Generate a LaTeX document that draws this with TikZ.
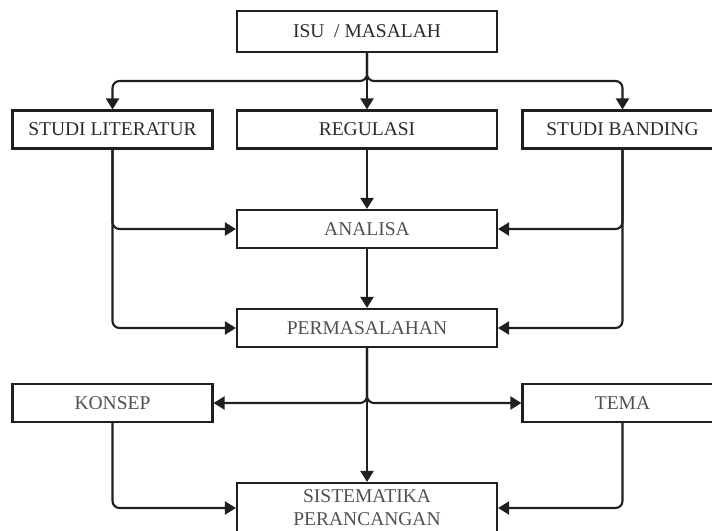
\documentclass[tikz,border=0pt]{standalone}
\usepackage{fontspec}
\setmainfont{Liberation Serif}
\usetikzlibrary{arrows.meta}
\definecolor{txtdark}{HTML}{2A2A2A}
\definecolor{txtgray}{HTML}{505050}
\begin{document}
\begin{tikzpicture}[x=1pt,y=-1pt,
  box/.style={draw=black!88,line width=2.1pt,rectangle,inner sep=0pt,align=center,
    font=\fontsize{19.5}{23}\selectfont,text=txtgray},
  wide/.style={minimum width=260pt,minimum height=38pt},
  side/.style={minimum width=200pt,minimum height=38pt},
  conn/.style={draw=black!88,line width=2.1pt,rounded corners=7pt,
    -{Triangle[length=11pt,width=13pt]}}]
\useasboundingbox (0,0) rectangle (712,530);
\clip (0,0) rectangle (712,530);
\node[box,wide,minimum height=41pt,text=txtdark] (isu) at (367,31.5) {ISU \ / MASALAH};
\node[box,side,text=txtdark] (lit) at (112.5,129.5) {STUDI LITERATUR};
\node[box,wide,text=txtdark] (reg) at (367,129.5) {REGULASI};
\node[box,side,text=txtdark] (band) at (622.5,129.5) {STUDI BANDING};
\node[box,wide] (ana) at (367,229) {ANALISA};
\node[box,wide] (perm) at (367,328) {PERMASALAHAN};
\node[box,side] (kon) at (112.5,403) {KONSEP};
\node[box,side] (tema) at (622.5,403) {TEMA};
\node[box,minimum width=260pt,minimum height=50pt] (sis) at (367,508) {SISTEMATIKA\\PERANCANGAN};
\coordinate (j1) at (367,81);
\draw[conn] (isu.south) -- (j1) -| (lit.north);
\draw[conn] (isu.south) -- (j1) -| (band.north);
\draw[conn] (isu.south) -- (reg.north);
\draw[conn] (lit.south) |- (ana.west);
\draw[conn] (lit.south) |- (perm.west);
\draw[conn] (band.south) |- (ana.east);
\draw[conn] (band.south) |- (perm.east);
\draw[conn] (reg.south) -- (ana.north);
\draw[conn] (ana.south) -- (perm.north);
\draw[conn] (perm.south) |- (kon.east);
\draw[conn] (perm.south) |- (tema.west);
\draw[conn] (perm.south) -- (sis.north);
\draw[conn] (kon.south) |- (sis.west);
\draw[conn] (tema.south) |- (sis.east);
\end{tikzpicture}
\end{document}
